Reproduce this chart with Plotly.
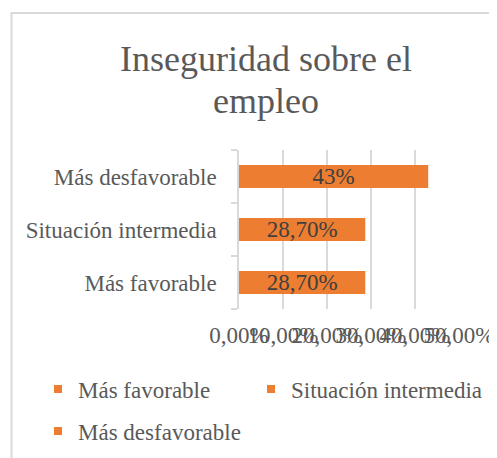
import plotly.graph_objects as go

categories = ["Más favorable", "Situación intermedia", "Más desfavorable"]
values = [0.287, 0.287, 0.43]
value_labels = ["28,70%", "28,70%", "43%"]
title_lines = ["Inseguridad sobre el", "empleo"]
x_ticks = [0.0, 0.1, 0.2, 0.3, 0.4, 0.5]

OFF = 8  # default body margin of the html page
W, H = 497 - OFF, 458 - OFF
L, R = 239 - OFF, 459 - OFF
T, B = 150 - OFF, 309 - OFF
ORANGE = "#ED7D31"
GRID = "#D9D9D9"
TXT = "#595959"
FONT = "Liberation Serif"
FS = 23

def px2px(x):
    return (x - OFF - L) / (R - L)

def py2py(y):
    return (B - (y - OFF)) / (B - T)

def cx(x):
    return (x - OFF) / W

def cy(y):
    return 1 - (y - OFF) / H

fig = go.Figure()
legend_names = ["legend", "legend2", "legend3"]
for i, cat in enumerate(categories):
    fig.add_trace(go.Bar(
        x=[values[i]], y=[cat], orientation="h", name=cat,
        marker=dict(color=ORANGE, line=dict(width=0)),
        width=0.43,
        text=[value_labels[i]], textposition="inside", insidetextanchor="middle",
        constraintext="none",
        textfont=dict(family=FONT, size=FS, color="#404040"),
        showlegend=False, hoverinfo="skip",
    ))
    fig.add_trace(go.Scatter(
        x=[None], y=[None], mode="markers", name=cat,
        marker=dict(symbol="square", size=8, color=ORANGE),
        legend=legend_names[i], showlegend=True,
    ))

leg_common = dict(xref="container", yref="container", xanchor="left", yanchor="middle",
                  orientation="h", font=dict(family=FONT, size=FS, color=TXT),
                  bgcolor="rgba(0,0,0,0)")

title_y = [59, 101]
annotations = [dict(text=t, xref="paper", yref="paper",
                    x=px2px(266), y=py2py(yy), xanchor="center", yanchor="middle",
                    showarrow=False, align="center",
                    font=dict(family=FONT, size=36, color=TXT))
               for t, yy in zip(title_lines, title_y)]

fig.update_layout(
    width=W, height=H,
    margin=dict(l=L, r=W - R, t=T, b=H - B, pad=0, autoexpand=False),
    paper_bgcolor="white", plot_bgcolor="white",
    barmode="overlay",
    separators=",.",
    font=dict(family=FONT, color=TXT, size=FS),
    xaxis=dict(range=[0, 0.5], tickvals=x_ticks, tickformat=".2%", tickangle=0,
               showgrid=True, gridcolor=GRID, gridwidth=1.5,
               zeroline=False, showline=False, ticks="", ticklabelstandoff=10,
               tickfont=dict(family=FONT, size=FS, color=TXT), fixedrange=True,
               automargin=False),
    yaxis=dict(categoryorder="array", categoryarray=categories,
               showline=True, linecolor=GRID, linewidth=1.5,
               ticks="outside", ticklen=6, tickcolor=GRID, tickwidth=1.5,
               tickson="boundaries", showgrid=False, ticklabelstandoff=16,
               tickfont=dict(family=FONT, size=FS, color=TXT), fixedrange=True,
               automargin=False),
    legend=dict(x=cx(38), y=cy(389), **leg_common),
    legend2=dict(x=cx(251), y=cy(389), **leg_common),
    legend3=dict(x=cx(38), y=cy(431), **leg_common),
    annotations=annotations,
    shapes=[dict(type="rect", xref="paper", yref="paper",
                 x0=px2px(11.5), x1=px2px(520), y0=py2py(13), y1=py2py(480),
                 line=dict(color=GRID, width=2), fillcolor="rgba(0,0,0,0)", layer="below")],
)

fig.write_html("out.html")
